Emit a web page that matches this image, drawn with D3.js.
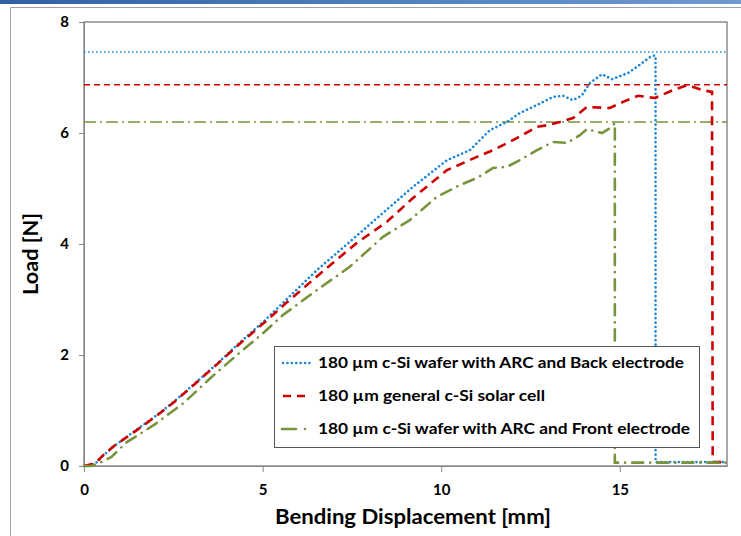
<!DOCTYPE html>
<html><head><meta charset="utf-8">
<script src="https://cdn.jsdelivr.net/npm/d3@7.9.0/dist/d3.min.js"></script>
<style>body{margin:0;background:#fff}svg{display:block;font-family:Lato,"Open Sans",sans-serif;font-weight:bold}</style>
</head><body><svg width="741" height="536"></svg>
<script>
// values: displacement [mm] and load [N]
const backX=[0,0.2,0.36,0.56,0.84,1.40,1.96,2.52,3.16,3.72,4.39,5.04,5.57,6.52,7.44,8.37,9.21,10.16,10.80,11.36,11.84,12.20,12.57,13.13,13.41,13.69,13.94,14.16,14.50,14.78,15.23,15.56,15.85,15.98,16.00,16.00,18.0];
const backY=[0,0.02,0.07,0.20,0.36,0.62,0.88,1.16,1.52,1.84,2.24,2.61,2.94,3.53,4.04,4.56,5.03,5.51,5.69,6.05,6.20,6.36,6.47,6.65,6.67,6.59,6.68,6.90,7.06,6.97,7.08,7.23,7.37,7.40,7.35,0.07,0.07];
const cellX=[0,0.2,0.36,0.56,0.84,1.40,1.96,2.52,3.16,3.72,4.39,5.04,5.68,6.80,7.64,8.48,9.21,10.16,11.00,11.45,12.01,12.68,12.96,13.32,13.69,14.08,14.72,15.09,15.51,15.98,16.48,16.88,17.10,17.33,17.58,17.60,17.62,18.0];
const cellY=[0,0.03,0.08,0.21,0.36,0.61,0.87,1.15,1.51,1.83,2.22,2.58,2.95,3.57,4.02,4.40,4.83,5.33,5.57,5.69,5.87,6.11,6.14,6.20,6.27,6.47,6.45,6.56,6.67,6.63,6.77,6.86,6.82,6.77,6.74,0.08,0.07,0.07];
const frontX=[0,0.2,0.48,0.76,1.20,1.96,2.80,3.55,4.28,5.04,5.57,6.52,7.44,8.37,9.12,9.88,10.52,11.00,11.45,11.84,12.20,12.68,13.13,13.52,13.88,14.08,14.50,14.78,14.86,14.86,18.0];
const frontY=[0,0,0.07,0.16,0.43,0.74,1.14,1.59,2.00,2.41,2.72,3.17,3.59,4.13,4.43,4.85,5.06,5.19,5.37,5.39,5.51,5.69,5.84,5.82,5.96,6.07,6.00,6.11,6.18,0.06,0.06];
const maxLoads=[7.46,6.87,6.20];
const names=["180 µm c-Si wafer with ARC and Back electrode","180 µm general c-Si solar cell","180 µm c-Si wafer with ARC and Front electrode"];
const xTicks=[0,5,10,15],yTicks=[0,2,4,6,8];

const svg=d3.select('svg');
const colors=['#1f86d6','#cc0000','#77933c'];
const dash=['0.1,4.3','9,6','11,7,0.1,7'];
const caps=['round','butt','round'];
const refDash=['1.5,2.5','6,4','12,4,2,4'];

// page frame
const g0=svg.append('defs').append('linearGradient').attr('id','bar');
g0.append('stop').attr('offset','0').attr('stop-color','#2f62a5');
g0.append('stop').attr('offset','1').attr('stop-color','#6f9bd4');
svg.append('rect').attr('x',0).attr('y',0).attr('width',741).attr('height',4).attr('fill','url(#bar)');
svg.append('path').attr('d','M10.5,536V7.5H741').attr('fill','none').attr('stroke','#a0a0a0');

const m={l:84,r:727,t:22,b:466};
const x=d3.scaleLinear().domain([0,18]).range([m.l,m.r]);
const y=d3.scaleLinear().domain([0,8]).range([m.b,m.t]);

svg.append('rect').attr('x',m.l).attr('y',m.t).attr('width',m.r-m.l).attr('height',m.b-m.t)
 .attr('fill','none').attr('stroke','#555');

const xa=svg.append('g').attr('transform',`translate(0,${m.b})`)
 .call(d3.axisBottom(x).tickValues(xTicks).tickSize(6).tickPadding(12).tickSizeOuter(0));
const ya=svg.append('g').attr('transform',`translate(${m.l},0)`)
 .call(d3.axisLeft(y).tickValues(yTicks).tickSize(5).tickPadding(10).tickSizeOuter(0));
[xa,ya].forEach(a=>{a.select('.domain').attr('stroke','#888');a.selectAll('line').attr('stroke','#888');
 a.selectAll('text').attr('font-size',15).attr('font-family','Lato,sans-serif').attr('font-weight','bold').attr('fill','#000');});

svg.append('text').attr('x',413).attr('y',524).attr('text-anchor','middle').attr('font-size',21)
 .attr('textLength',276).attr('lengthAdjust','spacingAndGlyphs').text('Bending Displacement [mm]');
svg.append('text').attr('transform','translate(38,254) rotate(-90)').attr('text-anchor','middle').attr('font-size',21)
 .attr('textLength',82).attr('lengthAdjust','spacingAndGlyphs').text('Load [N]');

// max load reference lines
maxLoads.forEach((v,i)=>svg.append('line').attr('x1',m.l).attr('x2',m.r).attr('y1',y(v)).attr('y2',y(v))
 .attr('stroke',colors[i]).attr('stroke-width',1.5).attr('stroke-dasharray',refDash[i]));

const line=d3.line().x(d=>x(d[0])).y(d=>y(d[1]));
const series=[[backX,backY],[cellX,cellY],[frontX,frontY]];
series.forEach(([xs,ys],i)=>svg.append('path').datum(xs.map((v,j)=>[v,ys[j]]))
 .attr('d',line).attr('fill','none').attr('stroke',colors[i]).attr('stroke-width',2.6)
 .attr('stroke-linecap',caps[i]).attr('stroke-dasharray',dash[i]));

// legend
const widths=[366,227,372];
const lg=svg.append('g').attr('transform','translate(274,346)');
lg.append('rect').attr('x',0.5).attr('y',0.5).attr('width',425).attr('height',101).attr('fill','#fff').attr('stroke','#555');
names.forEach((n,i)=>{const yy=17+i*33;
 lg.append('line').attr('x1',i===2?8:9).attr('x2',36).attr('y1',yy).attr('y2',yy).attr('stroke',colors[i]).attr('stroke-width',2.6)
  .attr('stroke-linecap',caps[i]).attr('stroke-dasharray',i===0?'0.1,4.3':i===1?'8,6':'14,9,0.1,7');
 lg.append('text').attr('x',44).attr('y',yy+5).attr('font-size',16)
  .attr('textLength',widths[i]).attr('lengthAdjust','spacingAndGlyphs').text(n);});
</script></body></html>
